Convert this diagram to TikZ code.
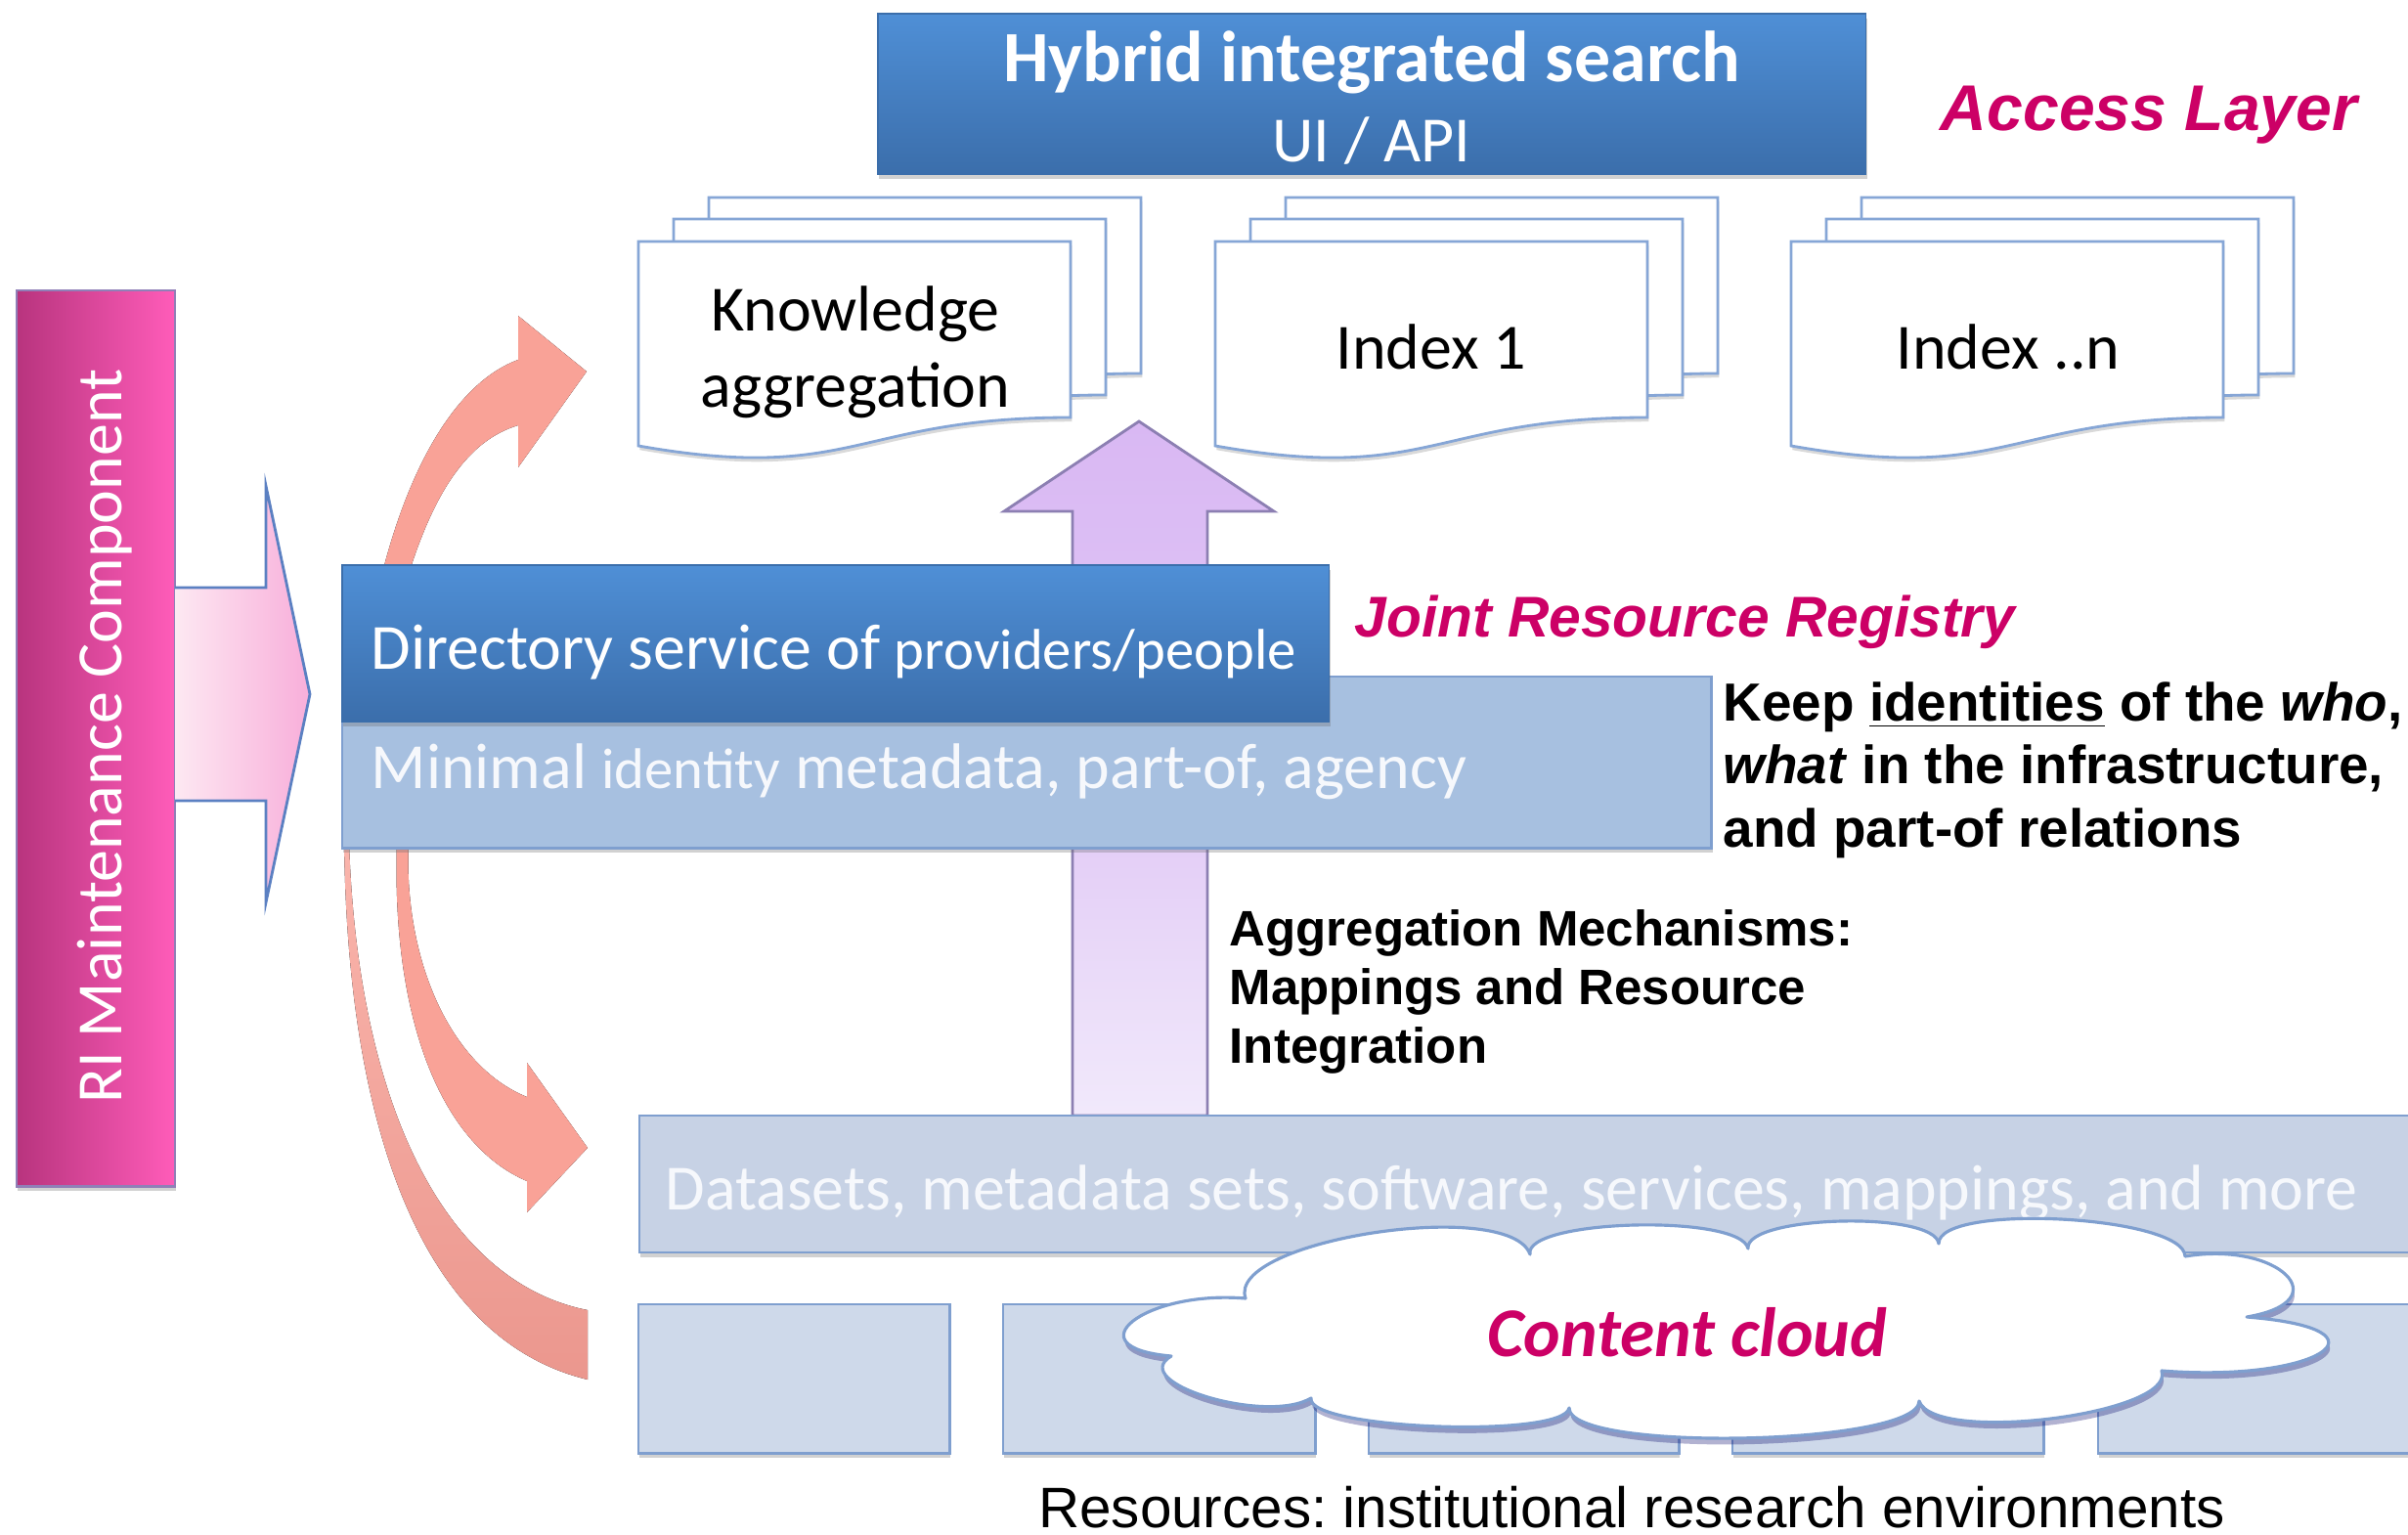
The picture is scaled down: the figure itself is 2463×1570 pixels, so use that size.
\documentclass[tikz,border=0pt]{standalone}
\usepackage{fontspec}
\setmainfont{Carlito}
\newfontfamily\arialf{Liberation Sans}
\usetikzlibrary{calc,shadows}
\frenchspacing
\definecolor{mag}{HTML}{CC0066}
\definecolor{blueT}{HTML}{4F8FD6}
\definecolor{blueB}{HTML}{3B6EAB}
\definecolor{minfill}{HTML}{A7C0E0}
\definecolor{boxedge}{HTML}{7F9FCF}
\definecolor{datfill}{HTML}{C7D2E5}
\definecolor{resfill}{HTML}{CED9EA}
\definecolor{salmon}{HTML}{F9A297}
\definecolor{salmonD}{HTML}{EB978E}
\definecolor{pinkL}{HTML}{B8347E}
\definecolor{pinkR}{HTML}{FF5CB9}
\definecolor{parrL}{HTML}{FDE8F2}
\definecolor{parrR}{HTML}{F8AEDA}
\definecolor{parredge}{HTML}{5B80C2}
\definecolor{purph}{HTML}{D9B8F3}
\definecolor{purpB}{HTML}{F1E9FB}
\definecolor{docedge}{HTML}{86A6D6}
\definecolor{textw}{HTML}{F6F8FC}
\tikzset{
  shd/.style={drop shadow={opacity=0.3, shadow xshift=0.3pt, shadow yshift=-1.4pt, fill=black!60}},
  boxnode/.style={inner sep=0pt, outer sep=0pt, anchor=north west},
  bluebox/.style={boxnode, draw=blueB, line width=0.5pt, top color=blueT, bottom color=blueB, shd},
  minbox/.style={boxnode, draw=boxedge, line width=0.8pt, fill=minfill, shd},
  datbox/.style={boxnode, draw=boxedge, line width=0.8pt, fill=datfill, shd},
  resbox/.style={boxnode, draw=boxedge, line width=0.8pt, fill=resfill, shd},
  docpage/.style={draw=docedge, line width=0.8pt, fill=white, drop shadow={opacity=0.25, shadow xshift=0.4pt, shadow yshift=-1.2pt, fill=black!60}},
  cloudst/.style={draw=boxedge, line width=0.9pt, line join=round, fill=white, drop shadow={opacity=0.3, shadow xshift=0.4pt, shadow yshift=-1.8pt, fill=black!60!blue}},
  calf/.style={font=\fontsize{18.75pt}{22.5pt}\selectfont},
  calbig/.style={font=\fontsize{21pt}{25pt}\selectfont\bfseries},
  arialb/.style={font=\arialf\bfseries\fontsize{15.6pt}{18.7pt}\selectfont},
  arialc/.style={font=\arialf\bfseries\fontsize{14.5pt}{17.4pt}\selectfont},
  magtitle/.style={font=\arialf\bfseries\itshape\fontsize{16.7pt}{20pt}\selectfont, text=mag},
  salm/.style={top color=salmon, bottom color=salmon},
}
\newcommand\docgroup[1]{%
  \foreach \ox/\Y in {72/202,36/224,0/247}{%
    \pgfmathsetmacro\X{653+#1+\ox}%
    \filldraw[docpage] (\X,\Y) -- ({\X+442},\Y) -- ({\X+442},{\Y+180})
      .. controls ({\X+221},{\Y+180}) and ({\X+221},{\Y+248}) .. (\X,{\Y+209}) -- cycle;
  }%
}
\newcommand\puff[3]{.. controls ($0.333*(#1)+1.333*(#2)-0.667*(#3)$) and ($0.333*(#3)+1.333*(#2)-0.667*(#1)$) .. (#3)}
\begin{document}
\begin{tikzpicture}[x=0.01cm,y=-0.01cm]
\useasboundingbox (0,0) rectangle (2463,1570);

% salmon curved arrows (behind the boxes)
\fill[salm] (390,590) .. controls (420,470) and (470,390) .. (530,368) -- (530,323) -- (600,380)
   -- (530,478) -- (530,435) .. controls (480,450) and (445,500) .. (417,590) -- cycle;
\fill[salm] (406,860) .. controls (400,1040) and (450,1170) .. (539,1208) -- (539,1240) -- (601,1174)
   -- (539,1087) -- (539,1122) .. controls (460,1090) and (412,980) .. (418,860) -- cycle;
\fill[top color=salmon!80!white, bottom color=salmonD] (352,860) .. controls (355,1150) and (430,1370) .. (601,1411)
   -- (601,1340) .. controls (450,1310) and (365,1120) .. (357,860) -- cycle;

% purple block arrow
\filldraw[draw=boxedge!80!purple, line width=0.8pt, top color=purph, bottom color=purpB, middle color=purph!70!purpB]
  (1097,1141) -- (1097,523) -- (1027,523) -- (1165,431) -- (1303,523) -- (1235,523) -- (1235,1141) -- cycle;

% RI maintenance bar and pink arrow
\node[boxnode, draw=boxedge!70!pinkL, line width=0.6pt, left color=pinkL, right color=pinkR, shd,
      minimum width=1.62cm, minimum height=9.16cm] (ri) at (17,297) {};
\filldraw[draw=parredge, line width=0.8pt, left color=parrL, right color=parrR]
  (ri.east |- 0,601) -- (272,601) -- (272,497) -- (317,710) -- (272,923) -- (272,819) -- (ri.east |- 0,819);
\node[rotate=90, anchor=base, text=white, calf] (ritext) at (124,753) {RI Maintenance Component};

% documents
\docgroup{0}
\docgroup{590}
\docgroup{1179}
\node[calf, anchor=base] (know1) at (875,339) {Knowledge};
\node[calf, anchor=base] (know2) at (875,417) {aggregation};
\node[calf, anchor=base] (index1) at (1464,378) {Index 1};
\node[calf, anchor=base] (indexn) at (2054,378) {Index ..n};

% access layer
\node[bluebox, minimum width=10.10cm, minimum height=1.64cm] (search) at (898,14) {};
\node[calbig, text=white, anchor=base] (hyb) at (1403,84) {Hybrid integrated search};
\node[calf, text=white, anchor=base] (uiapi) at (1403,166) {UI / API};
\node[font=\arialf\bfseries\itshape\fontsize{18.8pt}{22pt}\selectfont, text=mag, anchor=base] (access) at (2198,134) {Access Layer};

% registry
\node[minbox, minimum width=14.00cm, minimum height=1.75cm] (minimal) at (350,692) {};
\node[bluebox, minimum width=10.09cm, minimum height=1.60cm] (directory) at (350,578) {};
\node[calf, text=white, anchor=base west, inner sep=0pt] (dirtext) at (379,685)
  {Directory service of {\fontsize{16.7pt}{20pt}\selectfont providers/people}};
\node[calf, text=textw, anchor=base west, inner sep=0pt] (mintext) at (379,806)
  {Minimal {\fontsize{16.7pt}{20pt}\selectfont identity} metadata, part-of, agency};
\node[magtitle, anchor=base west, inner sep=0pt] (joint) at (1385,652) {Joint Resource Registry};
\node[arialb, anchor=base west, inner sep=0pt] (keep1) at (1762,737) {Keep \underline{identities} of the \textit{who},};
\node[arialb, anchor=base west, inner sep=0pt] (keep2) at (1762,801) {\textit{what} in the infrastructure,};
\node[arialb, anchor=base west, inner sep=0pt] (keep3) at (1762,866) {and part-of relations};

\node[arialc, anchor=base west, inner sep=0pt] (agg1) at (1257,967) {Aggregation Mechanisms:};
\node[arialc, anchor=base west, inner sep=0pt] (agg2) at (1257,1027) {Mappings and Resource};
\node[arialc, anchor=base west, inner sep=0pt] (agg3) at (1257,1087) {Integration};

% datasets and resources
\node[datbox, minimum width=18.20cm, minimum height=1.40cm] (datasets) at (654,1141) {};
\node[calf, text=textw, anchor=base west, inner sep=0pt] (dattext) at (680,1237)
  {Datasets, metadata sets, software, services, mappings, and more};
\foreach \n/\x/\w in {r1/653/3.18, r2/1026/3.19, r3/1400/3.17, r4/1772/3.18, r5/2146/3.30}{
  \node[resbox, minimum width=\w cm, minimum height=1.52cm] (\n) at (\x,1334) {};
}

% content cloud
\coordinate (n1) at (1274,1328);
\coordinate (n2) at (1565,1283);
\coordinate (n3) at (1788,1277);
\coordinate (n4) at (1983,1272);
\coordinate (n5) at (2235,1285);
\coordinate (n6) at (2298,1347);
\coordinate (n7) at (2211,1402);
\coordinate (n8) at (1963,1433);
\coordinate (n9) at (1605,1440);
\coordinate (n10) at (1341,1430);
\coordinate (n11) at (1198,1387);
\coordinate (p1) at (1405,1262);
\coordinate (p2) at (1672,1254);
\coordinate (p3) at (1884,1250);
\coordinate (p4) at (2110,1248);
\coordinate (p5) at (2340,1305);
\coordinate (p6) at (2375,1385);
\coordinate (p7) at (2100,1452);
\coordinate (p8) at (1785,1472);
\coordinate (p9) at (1470,1460);
\coordinate (p10) at (1236,1430);
\coordinate (p11) at (1160,1352);
\filldraw[cloudst] (n1) \puff{n1}{p1}{n2} \puff{n2}{p2}{n3} \puff{n3}{p3}{n4} \puff{n4}{p4}{n5}
  \puff{n5}{p5}{n6} \puff{n6}{p6}{n7} \puff{n7}{p7}{n8} \puff{n8}{p8}{n9} \puff{n9}{p9}{n10}
  \puff{n10}{p10}{n11} \puff{n11}{p11}{n1} -- cycle;
\node[font=\bfseries\itshape\fontsize{20.3pt}{24pt}\selectfont, text=mag, anchor=base] (ctext) at (1726,1387) {Content cloud};
\node[font=\arialf\fontsize{16.6pt}{20pt}\selectfont, anchor=base] (resources) at (1669,1562)
  {Resources: institutional research environments};
\end{tikzpicture}
\end{document}
